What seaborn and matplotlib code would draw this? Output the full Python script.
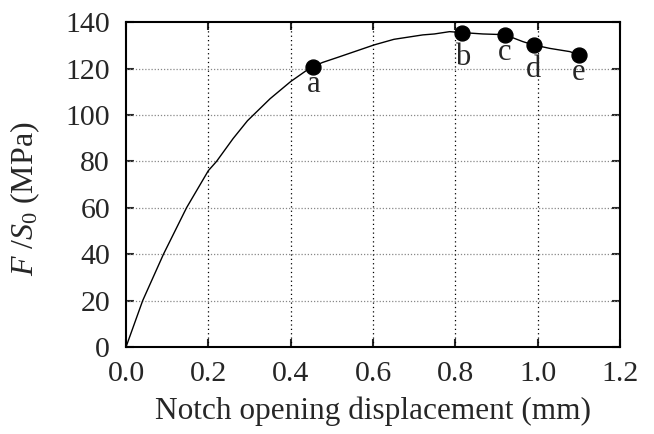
import matplotlib.pyplot as plt
import seaborn as sns
import numpy as np

# load-displacement curve
curve_x = [0.0, 0.0405, 0.091, 0.147, 0.200, 0.220, 0.260, 0.295, 0.350, 0.400,
           0.437, 0.455, 0.477, 0.514, 0.603, 0.651, 0.721, 0.749, 0.786, 0.817,
           0.867, 0.920, 0.964, 0.990, 1.029, 1.078, 1.100]
curve_y = [0.0, 20.0, 40.0, 60.0, 76.0, 80.0, 89.8, 97.5, 107.0, 114.4,
           119.0, 120.8, 122.6, 124.8, 130.2, 132.6, 134.5, 134.9, 135.9, 135.5,
           134.9, 134.6, 131.6, 130.2, 128.7, 127.3, 125.9]

# marked states
point_x = [0.455, 0.817, 0.920, 0.990, 1.100]
point_y = [120.8, 135.5, 134.6, 130.2, 125.9]
point_labels = ['a', 'b', 'c', 'd', 'e']
# label offsets in points (dx, dy), baseline anchored
label_offsets = [(0, -18), (0, -23), (0, -18), (0, -23), (0, -18)]

xticks = np.arange(0, 1.21, 0.2)
yticks = np.arange(0, 141, 20)

sns.set_theme(style="white")
plt.rcParams['font.family'] = ['Liberation Serif', 'DejaVu Serif']
plt.rcParams['mathtext.fontset'] = 'custom'
plt.rcParams['mathtext.it'] = 'Liberation Serif:italic'
plt.rcParams['mathtext.rm'] = 'Liberation Serif'

fig = plt.figure(figsize=(6.54, 4.34), dpi=100)
ax = fig.add_axes([0.1927, 0.2005, 0.7553, 0.7485])

# grid: grey dotted horizontals, black dotted verticals
for yv in yticks[1:-1]:
    ax.axhline(yv, color='#888888', linestyle=(0, (1, 1.5)), linewidth=0.9, zorder=1)
for xv in xticks[1:-1]:
    ax.axvline(xv, color='black', linestyle=(0, (1, 2.5)), linewidth=0.9, zorder=1)

sns.lineplot(x=curve_x, y=curve_y, sort=False, color='black', linewidth=1.0, ax=ax, zorder=3)
sns.scatterplot(x=point_x, y=point_y, color='black', s=115, edgecolor='black',
                linewidth=1, ax=ax, zorder=4)

for lab, px, py, off in zip(point_labels, point_x, point_y, label_offsets):
    ax.annotate(lab, xy=(px, py), xytext=off, textcoords='offset points',
                ha='center', va='baseline', fontsize=22)

ax.set_xlim(0, 1.2)
ax.set_ylim(0, 140)
ax.set_xticks(xticks)
ax.set_yticks(yticks)
ax.set_xticklabels([f'{v:.1f}' for v in xticks])
ax.set_yticklabels([f'{v:d}' for v in yticks])
ax.tick_params(direction='in', length=6, width=1.5, labelsize=21.5,
               top=True, right=True, bottom=True, left=True)
ax.tick_params(axis='x', pad=10)
ax.tick_params(axis='y', pad=11.5)

for sp in ax.spines.values():
    sp.set_linewidth(1.5)
    sp.set_color('black')

ax.set_xlabel('Notch opening displacement (mm)', fontsize=22.5)
ax.set_ylabel(r'$F\ /S_0$ (MPa)', fontsize=23)
ax.xaxis.set_label_coords(0.5, -0.152)
ax.xaxis.label.set_va('top')
ax.yaxis.set_label_coords(-0.17, 0.455)

fig.savefig('out.png', dpi=100)
